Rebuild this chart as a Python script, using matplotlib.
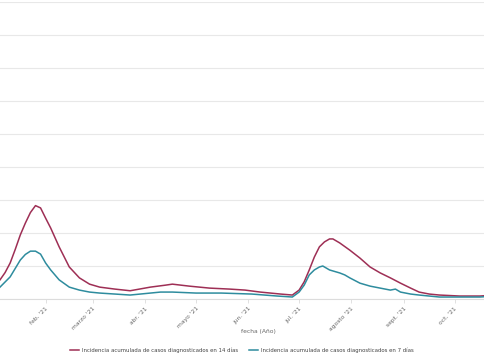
import matplotlib
matplotlib.use("Agg")
import matplotlib.pyplot as plt
import pandas as pd

# Incidencia acumulada 14 días
dates_14 = ["2021-01-05", "2021-01-08", "2021-01-11", "2021-01-14", "2021-01-17", "2021-01-20",
            "2021-01-23", "2021-01-26", "2021-01-29", "2021-02-01", "2021-02-04", "2021-02-09",
            "2021-02-15", "2021-02-21", "2021-02-27", "2021-03-05",
            "2021-03-14", "2021-03-23", "2021-04-04", "2021-04-13", "2021-04-17", "2021-04-27",
            "2021-05-09", "2021-05-21", "2021-05-30", "2021-06-08", "2021-06-20", "2021-06-27",
            "2021-07-01", "2021-07-04", "2021-07-07", "2021-07-10", "2021-07-13", "2021-07-16",
            "2021-07-19", "2021-07-21", "2021-07-25", "2021-07-31", "2021-08-06", "2021-08-12",
            "2021-08-18", "2021-08-24", "2021-08-30", "2021-09-05", "2021-09-10", "2021-09-16",
            "2021-09-22", "2021-10-04", "2021-10-16", "2021-10-19"]
vals_14 = [58, 80, 109, 150, 194, 230,
           262, 283, 276, 245, 215, 158,
           97, 64, 45, 36,
           30, 25, 36, 42, 45, 39,
           33, 30, 27, 21, 15, 12,
           27, 52, 88, 127, 158, 173,
           182, 182, 170, 148, 124, 97,
           79, 64, 48, 33, 21, 15,
           12, 9, 9, 10]

# Incidencia acumulada 7 días
dates_7 = ["2021-01-05", "2021-01-11", "2021-01-17", "2021-01-20", "2021-01-23", "2021-01-26",
           "2021-01-29", "2021-02-01", "2021-02-04",
           "2021-02-09", "2021-02-15", "2021-02-21", "2021-02-27", "2021-03-05", "2021-03-23",
           "2021-04-04", "2021-04-10", "2021-04-17", "2021-05-01", "2021-05-16", "2021-06-03",
           "2021-06-18", "2021-06-27", "2021-07-01", "2021-07-04", "2021-07-07", "2021-07-10",
           "2021-07-13", "2021-07-15", "2021-07-19", "2021-07-25", "2021-07-28", "2021-07-31",
           "2021-08-06", "2021-08-12", "2021-08-18", "2021-08-24", "2021-08-27", "2021-08-30",
           "2021-09-05", "2021-09-10", "2021-09-22", "2021-10-16", "2021-10-19"]
vals_7 = [36, 67, 118, 135, 145, 145,
          136, 109, 88,
          58, 36, 27, 21, 18, 12,
          18, 21, 21, 18, 18, 15,
          9, 6, 21, 42, 73, 88,
          97, 100, 88, 79, 73, 64,
          48, 39, 33, 27, 30, 21,
          15, 12, 6, 6, 7]

tick_dates = ["2021-02-01", "2021-03-01", "2021-04-01", "2021-05-01", "2021-06-01",
              "2021-07-01", "2021-08-01", "2021-09-01", "2021-10-01"]
tick_labels = ["feb. '21", "marzo '21", "abr. '21", "mayo '21", "jun. '21",
               "jul. '21", "agosto '21", "sept. '21", "oct. '21"]

label_14 = "Incidencia acumulada de casos diagnosticados en 14 días"
label_7 = "Incidencia acumulada de casos diagnosticados en 7 días"

RED = "#9e2f55"
TEAL = "#2e8c9e"

fig = plt.figure(figsize=(4.85, 3.6), dpi=100)
ax = fig.add_axes([0.0, (360 - 299) / 360, 1.0, (299 - 2) / 360])

ax.plot(pd.to_datetime(dates_14), vals_14, color=RED, lw=1.1, label=label_14)
ax.plot(pd.to_datetime(dates_7), vals_7, color=TEAL, lw=1.1, label=label_7)

ax.set_xlim(pd.Timestamp("2021-01-05"), pd.Timestamp("2021-10-19"))
ax.set_ylim(0, 900)
ax.set_yticks(range(0, 901, 100))
ax.yaxis.grid(True, color="#e8e8e8", lw=0.8)
ax.tick_params(axis="y", left=False, labelleft=False)
for s in ["top", "right", "left"]:
    ax.spines[s].set_visible(False)
ax.spines["bottom"].set_color("#dcdcdc")
ax.spines["bottom"].set_linewidth(0.8)

ax.set_xticks(pd.to_datetime(tick_dates))
ax.set_xticklabels(tick_labels, rotation=45, ha="right", rotation_mode="anchor",
                   fontsize=4.3, color="#666666")
ax.tick_params(axis="x", length=3, width=0.6, color="#dcdcdc", pad=2)

fig.text(258 / 485, 1 - 331 / 360, "fecha (Año)", fontsize=4.3, color="#666666",
         ha="center", va="center")

leg = fig.legend(loc="center", bbox_to_anchor=(242 / 485, 1 - 350 / 360), ncol=2,
                 frameon=False, fontsize=3.9, handlelength=1.6, columnspacing=2.0,
                 handletextpad=0.6)
for t in leg.get_texts():
    t.set_color("#444444")

fig.savefig("out.png", dpi=100)
